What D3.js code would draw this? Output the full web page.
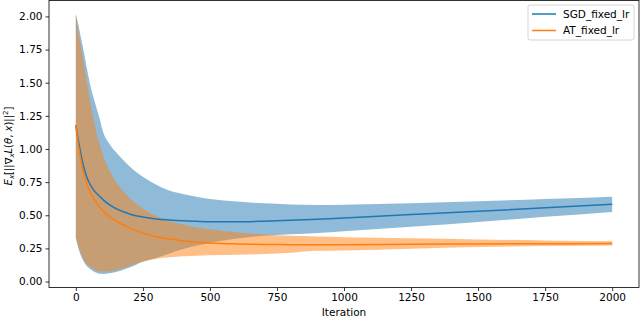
<!DOCTYPE html>
<html>
<head>
<meta charset="utf-8">
<script src="https://cdn.jsdelivr.net/npm/d3@7"></script>
<style>
  body { margin: 0; background: #fff; }
  svg { display: block; font-family: "DejaVu Sans", sans-serif; }
</style>
</head>
<body>
<svg id="chart" width="640" height="319"></svg>
<script>
// iteration grid shared by every series
const iters = [0, 10, 20, 30, 40, 50, 60, 70, 80, 90, 100, 125, 150, 175, 200, 250, 300, 350, 400, 450, 500, 600, 700, 800, 900, 1000, 1250, 1500, 1750, 2000];

const sgdMean  = [1.18, 1.06, 0.95, 0.86, 0.795, 0.745, 0.71, 0.68, 0.66, 0.64, 0.62, 0.58, 0.55, 0.528, 0.51, 0.487, 0.472, 0.464, 0.458, 0.454, 0.451, 0.451, 0.455, 0.462, 0.47, 0.48, 0.505, 0.53, 0.556, 0.583];
const sgdUpper = [2.02, 1.93, 1.83, 1.73, 1.62, 1.52, 1.43, 1.36, 1.29, 1.22, 1.14, 1.04, 0.975, 0.92, 0.87, 0.79, 0.73, 0.685, 0.66, 0.64, 0.622, 0.603, 0.59, 0.582, 0.578, 0.58, 0.59, 0.605, 0.622, 0.64];
const sgdLower = [0.33, 0.25, 0.19, 0.15, 0.12, 0.10, 0.085, 0.072, 0.064, 0.058, 0.057, 0.062, 0.072, 0.087, 0.105, 0.15, 0.178, 0.212, 0.245, 0.27, 0.292, 0.325, 0.345, 0.356, 0.366, 0.38, 0.413, 0.45, 0.488, 0.525];

const atMean  = [1.18, 1.02, 0.90, 0.81, 0.745, 0.69, 0.65, 0.615, 0.585, 0.56, 0.535, 0.49, 0.455, 0.428, 0.405, 0.365, 0.338, 0.32, 0.306, 0.297, 0.291, 0.284, 0.28, 0.278, 0.277, 0.277, 0.281, 0.284, 0.285, 0.286];
const atUpper = [2.02, 1.88, 1.76, 1.64, 1.52, 1.40, 1.29, 1.19, 1.10, 1.03, 0.96, 0.84, 0.75, 0.685, 0.63, 0.55, 0.495, 0.455, 0.43, 0.41, 0.395, 0.372, 0.355, 0.345, 0.34, 0.335, 0.327, 0.318, 0.31, 0.303];
const atLower = [0.33, 0.26, 0.205, 0.165, 0.135, 0.115, 0.10, 0.088, 0.08, 0.076, 0.075, 0.076, 0.085, 0.10, 0.118, 0.152, 0.172, 0.183, 0.19, 0.195, 0.198, 0.202, 0.208, 0.218, 0.232, 0.235, 0.248, 0.26, 0.268, 0.272];

const xTicks = [0, 250, 500, 750, 1000, 1250, 1500, 1750, 2000];
const yTicks = [0, 0.25, 0.5, 0.75, 1.0, 1.25, 1.5, 1.75, 2.0];

const seriesNames = ["SGD_fixed_lr", "AT_fixed_lr"];
const colors = ["#1f77b4", "#ff7f0e"];

const plotLeft = 49, plotRight = 639, plotTop = 0.5, plotBottom = 287.5;

const svg = d3.select("#chart");

const x = d3.scaleLinear().domain([-100, 2100]).range([plotLeft, plotRight]);
const y = d3.scaleLinear().domain([-0.045, 2.12]).range([plotBottom, plotTop]);

const rows = (mean, lo, hi) => iters.map((it, i) => ({ it, m: mean[i], lo: lo[i], hi: hi[i] }));
const series = [rows(sgdMean, sgdLower, sgdUpper), rows(atMean, atLower, atUpper)];

const area = d3.area()
  .curve(d3.curveMonotoneX)
  .x(d => x(d.it))
  .y0(d => y(d.lo))
  .y1(d => y(d.hi));

const line = d3.line()
  .curve(d3.curveMonotoneX)
  .x(d => x(d.it))
  .y(d => y(d.m));

// bands first, then the mean lines on top
series.forEach((s, i) => {
  svg.append("path")
    .attr("d", area(s))
    .attr("fill", colors[i])
    .attr("fill-opacity", 0.5);
});
series.forEach((s, i) => {
  svg.append("path")
    .attr("d", line(s))
    .attr("fill", "none")
    .attr("stroke", colors[i])
    .attr("stroke-width", 1.5);
});

// axes
const xAxis = svg.append("g")
  .attr("transform", `translate(0,${plotBottom})`)
  .call(d3.axisBottom(x).tickValues(xTicks).tickSize(3.5).tickPadding(3).tickFormat(d3.format("d")));
const yAxis = svg.append("g")
  .attr("transform", `translate(${plotLeft},0)`)
  .call(d3.axisLeft(y).tickValues(yTicks).tickSize(3.5).tickPadding(3).tickFormat(d3.format(".2f")));

[xAxis, yAxis].forEach(g => {
  g.select(".domain").remove();
  g.selectAll("text").attr("font-size", 10.5).attr("font-family", "DejaVu Sans").attr("fill", "#000");
  g.selectAll("line").attr("stroke", "#000").attr("stroke-width", 0.8);
});

// frame
svg.append("rect")
  .attr("x", plotLeft).attr("y", plotTop)
  .attr("width", plotRight - plotLeft).attr("height", plotBottom - plotTop)
  .attr("fill", "none").attr("stroke", "#000").attr("stroke-width", 0.8);

// axis labels
svg.append("text")
  .attr("x", x(1000)).attr("y", 316)
  .attr("text-anchor", "middle")
  .attr("font-size", 10.5)
  .text("Iteration");

const ylab = svg.append("text")
  .attr("transform", `translate(12,${(plotTop + plotBottom) / 2 + 2}) rotate(-90)`)
  .attr("text-anchor", "middle")
  .attr("font-size", 10);
ylab.append("tspan").attr("font-style", "italic").text("E");
ylab.append("tspan").attr("font-size", 7).attr("font-style", "italic").attr("dy", 2).text("x");
ylab.append("tspan").attr("dy", -2).text("[||∇");
ylab.append("tspan").attr("font-size", 7).attr("font-style", "italic").attr("dy", 2).text("x");
ylab.append("tspan").attr("dy", -2).attr("font-style", "italic").text("L");
ylab.append("tspan").text("(");
ylab.append("tspan").attr("font-style", "italic").text("θ");
ylab.append("tspan").text(", ");
ylab.append("tspan").attr("font-style", "italic").text("x");
ylab.append("tspan").text(")||");
ylab.append("tspan").attr("font-size", 7).attr("dy", -4).text("2");
ylab.append("tspan").attr("dy", 4).text("]");

// legend
const lg = svg.append("g").attr("transform", "translate(528,5)");
lg.append("rect")
  .attr("width", 106).attr("height", 35).attr("rx", 2)
  .attr("fill", "#fff").attr("fill-opacity", 0.8)
  .attr("stroke", "#ccc").attr("stroke-width", 0.8);
seriesNames.forEach((name, i) => {
  const yy = 9 + i * 16.5;
  lg.append("line")
    .attr("x1", 4).attr("x2", 28).attr("y1", yy).attr("y2", yy)
    .attr("stroke", colors[i]).attr("stroke-width", 1.5);
  lg.append("text")
    .attr("x", 35).attr("y", yy + 3.8)
    .attr("font-size", 10.5)
    .text(name);
});
</script>
</body>
</html>
